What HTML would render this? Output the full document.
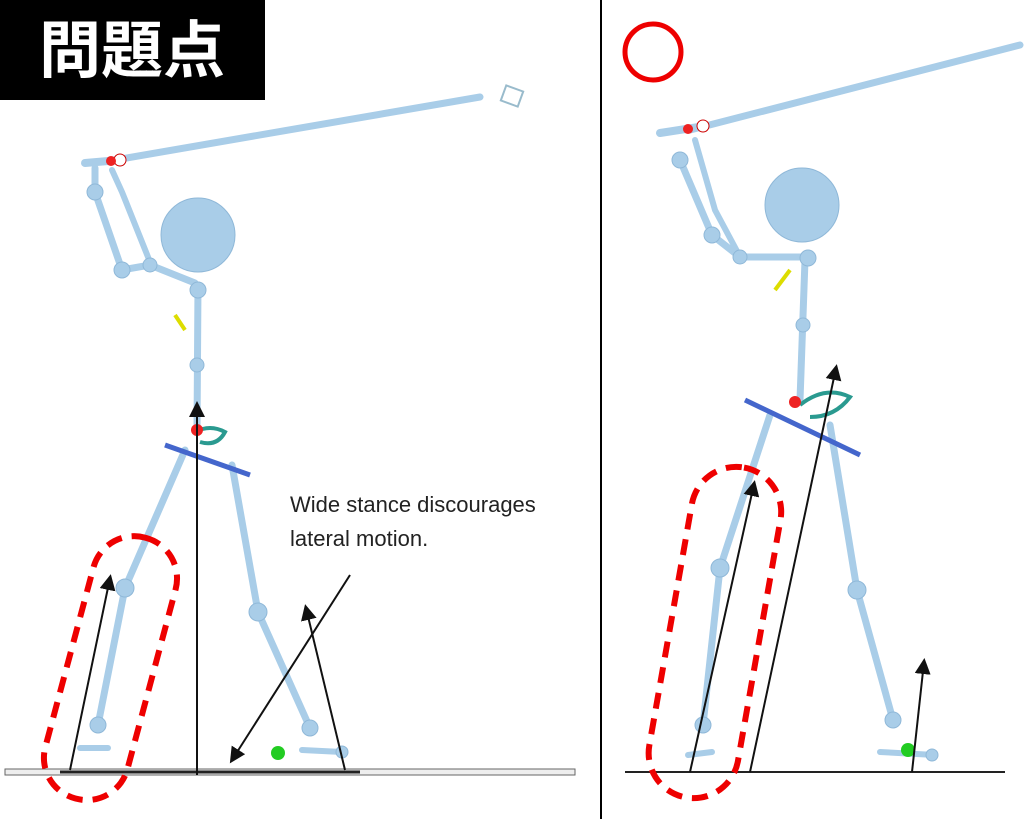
<!DOCTYPE html>
<html><head><meta charset="utf-8"><style>
html,body{margin:0;padding:0;background:#fff;width:1024px;height:819px;overflow:hidden}
</style></head><body>
<svg width="1024" height="819" viewBox="0 0 1024 819" xmlns="http://www.w3.org/2000/svg">
<defs>
<marker id="ah" markerWidth="8" markerHeight="8" refX="6" refY="4" orient="auto"><path d="M0,0 L8,4 L0,8 z" fill="#111"/></marker>
</defs>
<rect width="1024" height="819" fill="#fff"/>
<rect x="0" y="0" width="265" height="100" fill="#000"/>
<text x="132" y="72" font-family="Liberation Sans, Noto Sans CJK JP, sans-serif" font-size="62" font-weight="bold" fill="#fff" text-anchor="middle">問題点</text>
<line x1="601" y1="0" x2="601" y2="819" stroke="#000" stroke-width="2"/>
<circle cx="653" cy="52" r="28" fill="none" stroke="#e00" stroke-width="5"/>

<g stroke="#a9cde8" stroke-linecap="round" fill="none">
<!-- left figure -->
<line x1="115" y1="160" x2="480" y2="97" stroke-width="7"/>
<line x1="85" y1="163" x2="120" y2="160" stroke-width="8"/>
<polyline points="95,168 95,192 122,270 150,265 195,283" stroke-width="7"/>
<polyline points="112,170 122,192 150,262" stroke-width="6"/>
<line x1="198" y1="285" x2="197" y2="430" stroke-width="7"/>
<polyline points="185,450 125,588 98,725" stroke-width="7"/>
<polyline points="232,465 258,612 310,728" stroke-width="7"/>
<line x1="80" y1="748" x2="108" y2="748" stroke-width="6"/>
<line x1="302" y1="750" x2="342" y2="752" stroke-width="6"/>
<!-- right figure -->
<line x1="690" y1="130" x2="1020" y2="45" stroke-width="7"/>
<line x1="660" y1="133" x2="705" y2="126" stroke-width="8"/>
<polyline points="680,160 712,235 740,257 805,257" stroke-width="7"/>
<polyline points="695,140 715,210 738,253" stroke-width="6"/>
<line x1="805" y1="260" x2="800" y2="400" stroke-width="7"/>
<polyline points="770,415 720,568 703,725" stroke-width="7"/>
<polyline points="830,425 857,590 893,720" stroke-width="7"/>
<line x1="688" y1="755" x2="712" y2="752" stroke-width="6"/>
<line x1="880" y1="752" x2="935" y2="755" stroke-width="6"/>
</g>
<g fill="#a9cde8" stroke="#8fb8d8">
<circle cx="198" cy="235" r="37"/><circle cx="802" cy="205" r="37"/>
<circle cx="95" cy="192" r="8"/><circle cx="122" cy="270" r="8"/><circle cx="150" cy="265" r="7"/><circle cx="198" cy="290" r="8"/><circle cx="197" cy="365" r="7"/>
<circle cx="125" cy="588" r="9"/><circle cx="98" cy="725" r="8"/><circle cx="258" cy="612" r="9"/><circle cx="310" cy="728" r="8"/><circle cx="342" cy="752" r="6"/>
<circle cx="680" cy="160" r="8"/><circle cx="712" cy="235" r="8"/><circle cx="740" cy="257" r="7"/><circle cx="808" cy="258" r="8"/><circle cx="803" cy="325" r="7"/>
<circle cx="720" cy="568" r="9"/><circle cx="703" cy="725" r="8"/><circle cx="857" cy="590" r="9"/><circle cx="893" cy="720" r="8"/><circle cx="932" cy="755" r="6"/>
</g>
<circle cx="120" cy="160" r="6" fill="#fff" stroke="#c00"/><circle cx="703" cy="126" r="6" fill="#fff" stroke="#c00"/>
<circle cx="688" cy="129" r="5" fill="#e22"/><circle cx="111" cy="161" r="5" fill="#e22"/>
<line x1="165" y1="445" x2="250" y2="475" stroke="#4466cc" stroke-width="5"/>
<line x1="745" y1="400" x2="860" y2="455" stroke="#4466cc" stroke-width="5"/>
<path d="M195,432 q15,-8 30,0 q-8,15 -25,10" stroke="#2a9a90" stroke-width="4" fill="none"/>
<path d="M800,405 q25,-20 50,-8 q-15,20 -40,20" stroke="#2a9a90" stroke-width="4" fill="none"/>
<circle cx="197" cy="430" r="6" fill="#e22"/><circle cx="795" cy="402" r="6" fill="#e22"/>
<line x1="175" y1="315" x2="185" y2="330" stroke="#dd0" stroke-width="4"/>
<line x1="775" y1="290" x2="790" y2="270" stroke="#dd0" stroke-width="4"/>
<circle cx="278" cy="753" r="7" fill="#2c2"/><circle cx="908" cy="750" r="7" fill="#2c2"/>
<rect x="503" y="88" width="18" height="16" fill="none" stroke="#9bc" stroke-width="2" transform="rotate(20 512 96)"/>

<!-- ground -->
<rect x="5" y="769" width="570" height="6" fill="#eee" stroke="#666"/>
<line x1="60" y1="772" x2="360" y2="772" stroke="#222" stroke-width="3"/>
<line x1="625" y1="772" x2="1005" y2="772" stroke="#222" stroke-width="2"/>
<!-- arrows -->
<g stroke="#111" stroke-width="2" marker-end="url(#ah)">
<line x1="197" y1="775" x2="197" y2="405"/>
<line x1="70" y1="770" x2="110" y2="578"/>
<line x1="345" y1="770" x2="306" y2="608"/>
<line x1="350" y1="575" x2="232" y2="760"/>
<line x1="690" y1="772" x2="754" y2="484"/>
<line x1="750" y1="772" x2="836" y2="368"/>
<line x1="912" y1="772" x2="924" y2="662"/>
</g>
<text font-family="Liberation Sans, sans-serif" font-size="22" fill="#222"><tspan x="290" y="512">Wide stance discourages</tspan><tspan x="290" y="546">lateral motion.</tspan></text>
<rect x="68" y="533" width="85" height="270" rx="42" fill="none" stroke="#e00" stroke-width="6" stroke-dasharray="16,10" transform="rotate(15 110 668)"/>
<rect x="670" y="465" width="90" height="335" rx="45" fill="none" stroke="#e00" stroke-width="6" stroke-dasharray="16,10" transform="rotate(10 715 632)"/>
</svg>
</body></html>
